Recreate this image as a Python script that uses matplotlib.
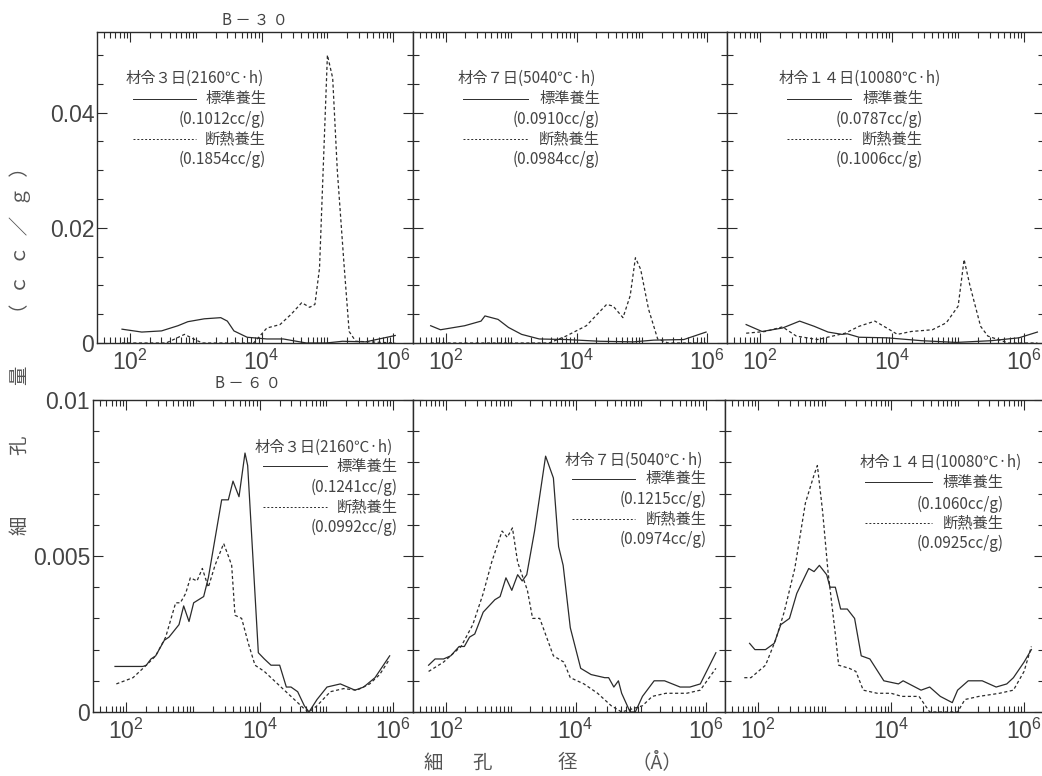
import numpy as np
import matplotlib
matplotlib.use('Agg')
import matplotlib.pyplot as plt
from matplotlib.ticker import FixedLocator, LogLocator, FuncFormatter, MultipleLocator

plt.rcParams['font.family'] = ['Liberation Sans', 'DejaVu Sans']
plt.rcParams['mathtext.fontset'] = 'custom'
plt.rcParams['mathtext.rm'] = 'Liberation Sans'
plt.rcParams['mathtext.it'] = 'Liberation Sans:italic'
plt.rcParams['mathtext.bf'] = 'Liberation Sans:bold'
JP = ['Noto Sans CJK JP', 'DejaVu Sans']

# ---- data (x as log10 of pore diameter in angstrom, y in cc/g) ----
# B-30, 3 days
b30_d3_std_logx = [1.88, 2.18, 2.48, 2.73, 2.88, 3.13, 3.38, 3.48, 3.58, 3.78, 4.08, 4.33, 4.68, 4.98, 5.23, 5.58, 6.03]
b30_d3_std_y = [0.0024, 0.0019, 0.0021, 0.0030, 0.0037, 0.0042, 0.0044, 0.0038, 0.0021, 0.0010, 0.0007, 0.0007, 0.0000, 0.0000, 0.0003, 0.0002, 0.0013]
b30_d3_adi_logx = [1.88, 2.55, 2.70, 2.83, 2.95, 3.10, 3.88, 4.08, 4.28, 4.45, 4.61, 4.73, 4.81, 4.88, 5.00, 5.08, 5.15, 5.25, 5.33, 5.43, 6.03]
b30_d3_adi_y = [0.0, 0.0, 0.0008, 0.0015, 0.0008, 0.0, 0.0, 0.0026, 0.0032, 0.0050, 0.0070, 0.0062, 0.0067, 0.0130, 0.0500, 0.0460, 0.0300, 0.0140, 0.0020, 0.0003, 0.0]
# B-30, 7 days
b30_d7_std_logx = [1.77, 1.92, 2.29, 2.54, 2.60, 2.80, 2.96, 3.16, 3.43, 3.84, 4.36, 4.87, 5.18, 5.64, 5.98]
b30_d7_std_y = [0.0030, 0.0023, 0.0030, 0.0038, 0.0047, 0.0041, 0.0027, 0.0015, 0.0007, 0.0006, 0.0003, 0.0002, 0.0005, 0.0006, 0.0019]
b30_d7_adi_logx = [1.77, 3.58, 3.84, 4.15, 4.46, 4.56, 4.71, 4.82, 4.90, 4.98, 5.10, 5.24, 5.40, 5.98]
b30_d7_adi_y = [0.0, 0.0, 0.0012, 0.0030, 0.0067, 0.0064, 0.0044, 0.0082, 0.0148, 0.0128, 0.0059, 0.0007, 0.0, 0.0]
# B-30, 14 days
b30_d14_std_logx = [1.79, 2.03, 2.34, 2.60, 2.82, 3.03, 3.24, 3.32, 3.50, 3.92, 4.45, 4.97, 5.50, 5.92, 6.20]
b30_d14_std_y = [0.0032, 0.0020, 0.0026, 0.0038, 0.0029, 0.0019, 0.0015, 0.0016, 0.0010, 0.0009, 0.0004, 0.0001, 0.0004, 0.0009, 0.0019]
b30_d14_adi_logx = [1.79, 2.08, 2.34, 2.55, 2.87, 3.29, 3.50, 3.74, 3.92, 4.08, 4.29, 4.61, 4.82, 5.00, 5.09, 5.18, 5.34, 5.45, 5.76, 6.20]
b30_d14_adi_y = [0.0017, 0.0020, 0.0028, 0.0012, 0.0006, 0.0017, 0.0029, 0.0038, 0.0026, 0.0015, 0.0020, 0.0023, 0.0035, 0.0064, 0.0145, 0.0099, 0.0029, 0.0012, 0.0, 0.0]

# B-60, 3 days
b60_d3_std_logx = [1.83, 2.25, 2.30, 2.37, 2.44, 2.57, 2.64, 2.79, 2.86, 2.94, 3.01, 3.16, 3.23, 3.43, 3.53, 3.60, 3.69, 3.78, 3.82, 3.98,
                   4.07, 4.17, 4.30, 4.40, 4.47, 4.57, 4.67, 4.74, 4.86, 5.01, 5.21, 5.43, 5.56, 5.73, 5.95]
b60_d3_std_y = [0.00146, 0.00146, 0.0015, 0.0017, 0.0018, 0.0023, 0.0024, 0.0028, 0.0034, 0.0029, 0.0035, 0.0037, 0.0043, 0.0068, 0.0068, 0.0074, 0.0069, 0.0083, 0.0079, 0.0019,
                0.0017, 0.0015, 0.0015, 0.0008, 0.0008, 0.00065, 0.0002, 0.0, 0.0004, 0.0008, 0.0009, 0.0007, 0.0008, 0.0011, 0.0018]
b60_d3_adi_logx = [1.85, 2.10, 2.30, 2.44, 2.59, 2.74, 2.81, 2.89, 2.96, 3.06, 3.14, 3.23, 3.33, 3.46, 3.53, 3.58, 3.63, 3.73, 3.83, 3.93,
                   4.07, 4.27, 4.47, 4.67, 4.74, 4.86, 5.06, 5.26, 5.46, 5.65, 5.80, 5.95]
b60_d3_adi_y = [0.0009, 0.0011, 0.0015, 0.0018, 0.0024, 0.0035, 0.0035, 0.0038, 0.0043, 0.0042, 0.0046, 0.0040, 0.0047, 0.0054, 0.0050, 0.0047, 0.0031, 0.0030, 0.0022, 0.0015,
                0.0013, 0.0009, 0.0005, 0.0001, 0.0, 0.0002, 0.00065, 0.00075, 0.0007, 0.0009, 0.0012, 0.0017]
# B-60, 7 days
b60_d7_std_logx = [1.74, 1.84, 1.97, 2.08, 2.21, 2.29, 2.37, 2.45, 2.58, 2.76, 2.84, 2.93, 3.02, 3.11, 3.18, 3.25, 3.37, 3.54, 3.66, 3.74,
                   3.81, 3.92, 4.08, 4.24, 4.45, 4.51, 4.59, 4.66, 4.71, 4.84, 4.92, 5.03, 5.21, 5.37, 5.61, 5.76, 5.92, 6.16]
b60_d7_std_y = [0.0015, 0.0017, 0.0017, 0.0018, 0.0021, 0.0021, 0.0024, 0.0025, 0.0032, 0.0036, 0.0037, 0.0043, 0.0039, 0.0044, 0.0042, 0.0044, 0.0058, 0.0082, 0.0075, 0.0053,
                0.0047, 0.0027, 0.0014, 0.0012, 0.0011, 0.0011, 0.0008, 0.0010, 0.0006, 0.0, 0.0, 0.0005, 0.0010, 0.0010, 0.0008, 0.0008, 0.0009, 0.0019]
b60_d7_adi_logx = [1.74, 1.97, 2.24, 2.42, 2.58, 2.71, 2.87, 2.95, 3.03, 3.11, 3.26, 3.34, 3.45, 3.66, 3.82, 3.92, 4.13, 4.34, 4.55, 4.71,
                   5.03, 5.18, 5.39, 5.71, 5.92, 6.16]
b60_d7_adi_y = [0.0013, 0.0016, 0.0021, 0.0028, 0.0038, 0.0048, 0.0058, 0.0056, 0.0059, 0.0048, 0.0039, 0.0030, 0.0030, 0.0018, 0.0016, 0.0011, 0.0009, 0.0006, 0.0002, 0.0,
                0.0002, 0.0005, 0.0006, 0.0006, 0.0007, 0.0014]
# B-60, 14 days
b60_d14_std_logx = [1.87, 1.95, 2.11, 2.24, 2.34, 2.47, 2.58, 2.76, 2.84, 2.92, 3.03, 3.08, 3.16, 3.24, 3.34, 3.45, 3.55, 3.68, 3.89, 4.11,
                    4.18, 4.45, 4.58, 4.74, 4.92, 5.00, 5.16, 5.37, 5.58, 5.74, 5.84, 6.00, 6.11]
b60_d14_std_y = [0.0022, 0.0020, 0.0020, 0.0022, 0.0028, 0.0030, 0.0038, 0.0046, 0.0045, 0.0047, 0.0044, 0.0040, 0.0040, 0.0033, 0.0033, 0.0030, 0.0018, 0.0017, 0.0010, 0.0009,
                 0.0010, 0.0007, 0.0008, 0.0005, 0.0003, 0.0007, 0.0010, 0.0010, 0.0008, 0.0009, 0.0011, 0.0016, 0.0020]
b60_d14_adi_logx = [1.79, 1.89, 2.11, 2.26, 2.39, 2.55, 2.71, 2.84, 2.89, 2.97, 3.05, 3.16, 3.21, 3.37, 3.47, 3.58, 3.79, 4.00, 4.16, 4.42,
                    4.58, 5.00, 5.11, 5.32, 5.63, 5.84, 6.00, 6.11]
b60_d14_adi_y = [0.0011, 0.0011, 0.0015, 0.0023, 0.0032, 0.0046, 0.0067, 0.0076, 0.0079, 0.0064, 0.0045, 0.0025, 0.0015, 0.0014, 0.0013, 0.0007, 0.0006, 0.0006, 0.0005, 0.0005,
                 0.0, 0.0, 0.0004, 0.0005, 0.0006, 0.0007, 0.0013, 0.0021]

ages = ["材令３日(2160℃·h)", "材令７日(5040℃·h)", "材令１４日(10080℃·h)"]
b30_std_vol = ["(0.1012cc/g)", "(0.0910cc/g)", "(0.0787cc/g)"]
b30_adi_vol = ["(0.1854cc/g)", "(0.0984cc/g)", "(0.1006cc/g)"]
b60_std_vol = ["(0.1241cc/g)", "(0.1215cc/g)", "(0.1060cc/g)"]
b60_adi_vol = ["(0.0992cc/g)", "(0.0974cc/g)", "(0.0925cc/g)"]
std_name = "標準養生"
adi_name = "断熱養生"

# ---- layout ----
W, H = 1042, 776
fig = plt.figure(figsize=(W / 100, H / 100), dpi=100)
ink = '#2b2b2b'
txt = '#444444'

def px_axes(x0, x1, ytop, ybot):
    return fig.add_axes([x0 / W, 1 - ybot / H, (x1 - x0) / W, (ybot - ytop) / H])

top_axes = [px_axes(97, 413, 32, 343), px_axes(413, 727, 32, 343), px_axes(727, 1044, 32, 343)]
bot_axes = [px_axes(93, 413, 400, 712), px_axes(413, 725, 400, 712), px_axes(725, 1044, 400, 712)]

top_series = [(b30_d3_std_logx, b30_d3_std_y, b30_d3_adi_logx, b30_d3_adi_y),
              (b30_d7_std_logx, b30_d7_std_y, b30_d7_adi_logx, b30_d7_adi_y),
              (b30_d14_std_logx, b30_d14_std_y, b30_d14_adi_logx, b30_d14_adi_y)]
bot_series = [(b60_d3_std_logx, b60_d3_std_y, b60_d3_adi_logx, b60_d3_adi_y),
              (b60_d7_std_logx, b60_d7_std_y, b60_d7_adi_logx, b60_d7_adi_y),
              (b60_d14_std_logx, b60_d14_std_y, b60_d14_adi_logx, b60_d14_adi_y)]

# legend block placement in axes fractions: title x, line x0, line x1, right edge, row ys
top_leg = [(0.089, 0.114, 0.313, 0.535, [0.85, 0.785, 0.72, 0.655, 0.59]),
           (0.143, 0.159, 0.366, 0.596, [0.85, 0.785, 0.72, 0.655, 0.59]),
           (0.162, 0.190, 0.390, 0.619, [0.85, 0.785, 0.72, 0.655, 0.59])]
bot_leg = [(0.506, 0.530, 0.730, 0.953, [0.849, 0.788, 0.72, 0.657, 0.593]),
           (0.487, 0.510, 0.710, 0.942, [0.808, 0.747, 0.683, 0.619, 0.554]),
           (0.422, 0.438, 0.650, 0.873, [0.80, 0.737, 0.667, 0.606, 0.542])]

dec_fmt = FuncFormatter(lambda v, p: r'$10^{%d}$' % round(np.log10(v)))
y_fmt = FuncFormatter(lambda v, p: '0' if v == 0 else '%g' % v)


def draw_panel(ax, series, leg, age, std_vol, adi_vol, ymax, ymajor, yminor, first):
    sx, sy, ax_, ay = series
    ax.plot(10 ** np.array(sx), sy, color=ink, lw=0.9)
    ax.plot(10 ** np.array(ax_), ay, color=ink, lw=0.9, linestyle=(0, (2.5, 2)))
    ax.set_xscale('log')
    ax.set_xlim(10 ** 1.5, 10 ** 6.3)
    ax.set_ylim(0, ymax)
    ax.xaxis.set_major_locator(FixedLocator([1e2, 1e4, 1e6]))
    ax.xaxis.set_minor_locator(LogLocator(base=10, subs=np.arange(1, 10), numticks=20))
    ax.xaxis.set_major_formatter(dec_fmt)
    ax.xaxis.set_minor_formatter(plt.NullFormatter())
    ax.yaxis.set_major_locator(FixedLocator(ymajor))
    ax.yaxis.set_minor_locator(MultipleLocator(yminor))
    ax.yaxis.set_major_formatter(y_fmt)
    ax.tick_params(which='both', direction='in', top=True, right=True, colors=ink,
                   labelcolor=txt, labelsize=16.5, width=0.8)
    ax.tick_params(which='major', length=7)
    ax.tick_params(which='minor', length=4)
    ax.tick_params(axis='x', pad=5)
    ax.tick_params(axis='y', pad=2, labelleft=first)
    for sp in ax.spines.values():
        sp.set_color(ink)
        sp.set_linewidth(1.0)

    tx, lx0, lx1, rx, ys = leg
    kw = dict(transform=ax.transAxes, family=JP, fontsize=11, color=txt, va='center')
    ax.text(tx, ys[0], age, ha='left', **kw)
    ax.plot([lx0, lx1], [ys[1], ys[1]], transform=ax.transAxes, color=ink, lw=0.7)
    ax.text(rx, ys[1], std_name, ha='right', **kw)
    ax.text(rx, ys[2], std_vol, ha='right', **kw)
    ax.plot([lx0, lx1], [ys[3], ys[3]], transform=ax.transAxes, color=ink, lw=0.7,
            linestyle=(0, (2, 2)))
    ax.text(rx, ys[3], adi_name, ha='right', **kw)
    ax.text(rx, ys[4], adi_vol, ha='right', **kw)


for i in range(3):
    draw_panel(top_axes[i], top_series[i], top_leg[i], ages[i], b30_std_vol[i], b30_adi_vol[i],
               0.054, [0, 0.02, 0.04], 0.005, i == 0)
    draw_panel(bot_axes[i], bot_series[i], bot_leg[i], ages[i], b60_std_vol[i], b60_adi_vol[i],
               0.01, [0, 0.005, 0.01], 0.001, i == 0)

# panel group titles
fig.text(255 / W, 1 - 20 / H, "B － ３ ０", family=JP, fontsize=11, color=txt, ha='center', va='center')
fig.text(248 / W, 1 - 383 / H, "B － ６ ０", family=JP, fontsize=11, color=txt, ha='center', va='center')

# y axis label (rotated), bottom to top: 細 孔 量 （cc/g）
ylab = dict(family=JP, fontsize=14, color='#555555', rotation=90, ha='center', va='center')
fig.text(20 / W, 1 - 525 / H, "細", **ylab)
fig.text(20 / W, 1 - 445 / H, "孔", **ylab)
fig.text(20 / W, 1 - 375 / H, "量", **ylab)
fig.text(20 / W, 1 - 240 / H, "（\u2002ｃ\u2002ｃ\u2002／\u2002ｇ\u2002）", **ylab)

# x axis label
xlab = dict(family=JP, fontsize=14, color='#555555', ha='center', va='center')
fig.text(433 / W, 1 - 763 / H, "細", **xlab)
fig.text(482 / W, 1 - 763 / H, "孔", **xlab)
fig.text(567 / W, 1 - 763 / H, "径", **xlab)
fig.text(657 / W, 1 - 763 / H, "（Å）", **xlab)

fig.savefig('out.png', dpi=100)
